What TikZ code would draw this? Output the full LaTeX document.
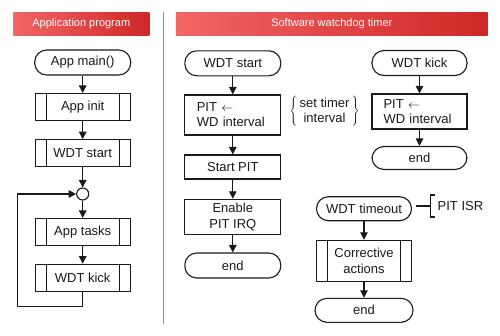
\documentclass[tikz,border=0pt]{standalone}
\usepackage{fontspec}
\setmainfont{Liberation Sans}
\usetikzlibrary{arrows.meta,calc}
\definecolor{hdrL}{HTML}{F26666}
\definecolor{hdrR}{HTML}{CF2727}
\definecolor{sepred}{HTML}{E46A6A}
\definecolor{ink}{HTML}{1A1A1A}
\begin{document}
\begin{tikzpicture}[x=1pt,y=-1pt,
  font=\fontsize{13}{15}\selectfont,
  every node/.style={inner sep=0pt, text=ink},
  lnk/.style={draw=ink, line width=1.1pt, -{Triangle[length=7.5pt,width=7.5pt]}},
  plain/.style={draw=ink, line width=1.1pt},
  term/.style={draw=ink, line width=1.1pt, rounded corners=12pt, minimum width=96pt, minimum height=25pt},
  procbox/.style={draw=ink, line width=1.1pt, minimum width=96pt, align=center},
  leftproc/.style={draw=ink, line width=1.1pt, minimum width=96pt, text width=72pt, align=left},
  predef/.style={draw=ink, line width=1.1pt, minimum width=95pt, minimum height=27pt, align=center,
    path picture={\draw[ink, line width=1.1pt]
      ([xshift=11pt]path picture bounding box.north west) -- ([xshift=11pt]path picture bounding box.south west)
      ([xshift=-11pt]path picture bounding box.north east) -- ([xshift=-11pt]path picture bounding box.south east);}},
  header/.style={left color=hdrL, right color=hdrR, draw=none, minimum height=23.5pt,
    font=\fontsize{11}{13}\selectfont, text=white},
]
\useasboundingbox (0,0) rectangle (500,335);
\fill[white] (0,0) rectangle (500,335);

% headers
\node[header, minimum width=136pt] (hl) at (81.3,23.8) {Application program};
\node[header, minimum width=311.7pt] (hr) at (331.8,23.8) {Software watchdog timer};
\coordinate (sepT) at (163.3,12);
\coordinate (sepB) at (163.3,324);
\draw[sepred, line width=1pt] (sepT) -- (sepB);

% left column
\node[term] (main) at (82.7,62.5) {App main()};
\node[predef] (init) at (82.7,107) {App init};
\node[predef] (wstart) at (82.7,153.2) {WDT start};
\node[draw=ink, line width=1.1pt, circle, minimum size=12pt] (join) at (82.7,194) {};
\node[predef] (tasks) at (82.7,232) {App tasks};
\node[predef] (kick) at (82.7,277.7) {WDT kick};
\coordinate (loopA) at (82.7,306.3);
\coordinate (loopB) at (17.3,194);

\draw[lnk] (main) -- (init);
\draw[lnk] (init) -- (wstart);
\draw[lnk] (wstart) -- (join);
\draw[lnk] (join) -- (tasks);
\draw[lnk] (tasks) -- (kick);
\draw[lnk] (kick.south) -- (loopA) -| (loopB) -- (join.west);

% WDT start routine
\node[term] (rstart) at (232.8,63.3) {WDT start};
\node[leftproc, minimum height=40pt] (pit1) at (232.8,115) {PIT $\leftarrow$\\WD interval};
\node[procbox, minimum height=24pt] (spit) at (232.8,167) {Start PIT};
\node[procbox, minimum height=35pt, font=\fontsize{13}{16}\selectfont] (enable) at (232.8,216.8) {Enable\\PIT IRQ};
\node[term] (endl) at (232.8,265.5) {end};
\draw[lnk] (rstart) -- (pit1);
\draw[lnk] (pit1) -- (spit);
\draw[lnk] (spit) -- (enable);
\draw[lnk] (enable) -- (endl);

\node (brace) at (324.5,111.5) {$\left\{\vcenter{\hbox{\begin{tabular}{@{\,}c@{\,}}\fontsize{13}{15}\selectfont set timer\\\fontsize{13}{15}\selectfont interval\end{tabular}}}\right\}$};

% WDT kick routine
\node[term, minimum width=95pt] (kickr) at (419.5,63) {WDT kick};
\node[leftproc, minimum width=95pt, text width=72pt, minimum height=35pt] (pit2) at (419.5,111.5) {PIT $\leftarrow$\\WD interval};
\node[term, minimum width=95pt, minimum height=23pt] (endr) at (419.5,158) {end};
\draw[lnk] (kickr) -- (pit2);
\draw[lnk] (pit2) -- (endr);

% timeout routine
\node[term, minimum width=95pt, minimum height=24pt] (tout) at (364,208.7) {WDT timeout};
\node[predef, minimum height=41pt, font=\fontsize{13}{16}\selectfont] (corr) at (364,260.8) {Corrective\\actions};
\node[term, minimum width=98pt, minimum height=24pt] (endb) at (364,310.3) {end};
\draw[lnk] (tout) -- (corr);
\draw[lnk] (corr) -- (endb);

\node[anchor=west] (isr) at (437.5,206) {PIT ISR};
\coordinate (brT) at (430.5,195);
\coordinate (brB) at (430.5,217);
\draw[plain] ([xshift=4pt]tout.east |- isr.west) -- (brT |- isr.west);
\draw[plain] ([xshift=4.5pt]brT) -- (brT) -- (brB) -- ([xshift=4.5pt]brB);
\end{tikzpicture}
\end{document}
